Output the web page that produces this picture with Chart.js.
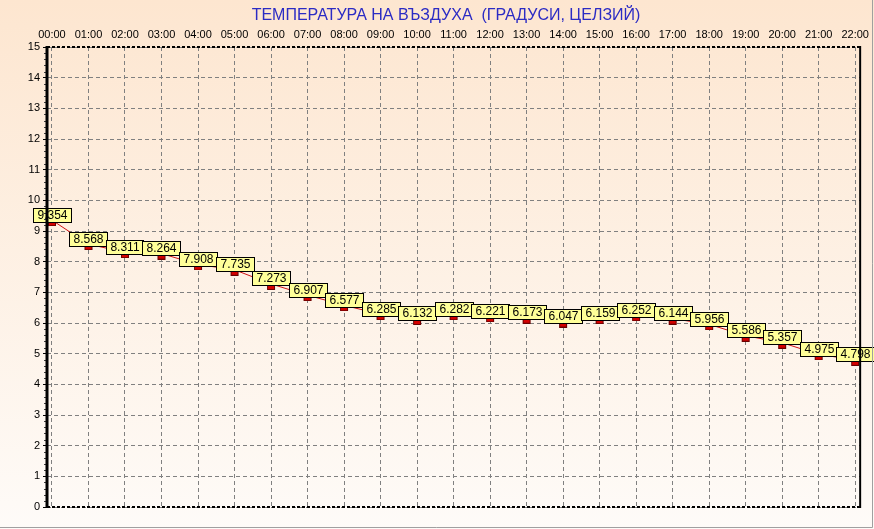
<!DOCTYPE html>
<html>
<head>
<meta charset="utf-8">
<script src="https://cdn.jsdelivr.net/npm/chart.js@4/dist/chart.umd.min.js"></script>
<style>
html,body{margin:0;padding:0;background:#fff;}
#wrap{width:874px;height:529px;position:relative;}
</style>
</head>
<body>
<div id="wrap"><canvas id="c" width="874" height="529"></canvas></div>
<script>
const titleText = "ТЕМПЕРАТУРА НА ВЪЗДУХА  (ГРАДУСИ, ЦЕЛЗИЙ)";
const hours = ["00:00","01:00","02:00","03:00","04:00","05:00","06:00","07:00","08:00","09:00","10:00","11:00","12:00","13:00","14:00","15:00","16:00","17:00","18:00","19:00","20:00","21:00","22:00"];
const temps = [9.354,8.568,8.311,8.264,7.908,7.735,7.273,6.907,6.577,6.285,6.132,6.282,6.221,6.173,6.047,6.159,6.252,6.144,5.956,5.586,5.357,4.975,4.798];
const yMin = 0, yMax = 15;

// marker image (red bar drawn just below the point)
const marker = document.createElement('canvas');
marker.width = 10; marker.height = 12;
(function(){
  const m = marker.getContext('2d');
  m.fillStyle = '#d40000';
  m.fillRect(1,7,8,5);
  m.strokeStyle = '#6a0000';
  m.lineWidth = 1;
  m.strokeRect(1.5,7.5,7,4);
})();

const bgPlugin = {
  id:'bg',
  beforeDraw(chart){
    const ctx = chart.ctx, w = chart.width, h = chart.height;
    const g = ctx.createLinearGradient(0,0,0,h);
    g.addColorStop(0,'#fde6d0');
    g.addColorStop(1,'#fefbf8');
    ctx.save();
    ctx.fillStyle = g;
    ctx.fillRect(0,0,w,h);
    ctx.restore();
  }
};

const framePlugin = {
  id:'frame',
  afterDatasetsDraw(chart){
    const ctx = chart.ctx;
    ctx.save();
    const meta = chart.getDatasetMeta(0);
    ctx.font = '12px Arial, "Liberation Sans"';
    ctx.textAlign = 'center';
    ctx.textBaseline = 'middle';
    meta.data.forEach((pt,i)=>{
      const txt = temps[i].toFixed(3);
      const tw = ctx.measureText(txt).width;
      const bw = Math.round(tw + 8), bh = 14;
      const bx = Math.round(pt.x - bw/2) + 0.5;
      const by = Math.round(pt.y + 1.5 - bh) + 0.5;
      ctx.fillStyle = '#ffff99';
      ctx.fillRect(bx,by,bw,bh);
      ctx.strokeStyle = '#000';
      ctx.lineWidth = 1;
      ctx.strokeRect(bx,by,bw,bh);
      ctx.fillStyle = '#000';
      ctx.fillText(txt, bx + bw/2, by + bh/2 + 0.5);
    });
    ctx.restore();
  },
  afterDraw(chart){
    const ctx = chart.ctx, a = chart.chartArea;
    const ys = chart.scales.y;
    ctx.save();
    ctx.strokeStyle = '#404040';
    ctx.lineWidth = 1;
    for(let v=yMin; v<yMax; v+=1){
      for(let k=1;k<5;k++){
        const py = Math.round(ys.getPixelForValue(v + k*0.2)) + 0.5;
        ctx.beginPath(); ctx.moveTo(a.left-3,py); ctx.lineTo(a.left,py); ctx.stroke();
      }
    }
    ctx.strokeStyle = '#000';
    ctx.setLineDash([3,2]);
    ctx.lineWidth = 2;
    ctx.beginPath(); ctx.moveTo(a.left,a.top); ctx.lineTo(a.right,a.top); ctx.stroke();
    ctx.beginPath(); ctx.moveTo(a.left,a.bottom); ctx.lineTo(a.right,a.bottom); ctx.stroke();
    ctx.setLineDash([]);
    ctx.beginPath(); ctx.moveTo(a.right,a.top-1); ctx.lineTo(a.right,a.bottom+1); ctx.stroke();
    ctx.lineWidth = 3;
    ctx.beginPath(); ctx.moveTo(a.left,a.top-1); ctx.lineTo(a.left,a.bottom+1); ctx.stroke();
    ctx.strokeStyle = '#a0a0a0';
    ctx.lineWidth = 1;
    ctx.beginPath(); ctx.moveTo(0,chart.height-1.5); ctx.lineTo(chart.width-1.5,chart.height-1.5); ctx.lineTo(chart.width-1.5,0); ctx.stroke();
    ctx.restore();
  }
};

const pxPerHour = (860-52)/22;
const xPad = 5/pxPerHour;

new Chart(document.getElementById('c'), {
  type:'line',
  data:{
    datasets:[{
      data: temps.map((v,i)=>({x:i,y:v})),
      borderColor:'#d01010',
      borderWidth:1,
      pointStyle: marker,
      pointRadius: 5,
      pointHoverRadius: 5,
      fill:false,
      tension:0
    }]
  },
  plugins:[bgPlugin, framePlugin],
  options:{
    responsive:false,
    animation:false,
    events:[],
    layout:{padding:{left:27,right:9,top:0,bottom:22}},
    plugins:{
      legend:{display:false},
      tooltip:{enabled:false},
      title:{
        display:true,
        text:titleText,
        color:'#2b2bc4',
        font:{family:'Arial, "Liberation Sans"', size:16, weight:'normal'},
        padding:{top:6,bottom:0}
      }
    },
    scales:{
      x:{
        type:'linear',
        position:'top',
        min:-xPad,
        max:22+xPad,
        afterFit(s){ s.height = 47 - 6 - 19.2; },
        ticks:{
          stepSize:1,
          includeBounds:false,
          autoSkip:false,
          maxRotation:0,
          padding:5,
          color:'#000',
          font:{family:'Arial, "Liberation Sans"', size:11},
          callback:(v)=> hours[v] !== undefined ? hours[v] : ''
        },
        grid:{
          color:'#808080',
          lineWidth:1,
          drawTicks:false,
          tickBorderDash:[]
        },
        border:{display:false, dash:[4,3]}
      },
      y:{
        min:yMin,
        max:yMax,
        afterFit(s){ s.width = 20; },
        ticks:{
          stepSize:1,
          padding:3,
          color:'#000',
          font:{family:'Arial, "Liberation Sans"', size:11}
        },
        grid:{
          color:'#808080',
          lineWidth:1,
          drawTicks:true,
          tickLength:4,
          tickColor:'#000',
          tickBorderDash:[]
        },
        border:{display:false, dash:[4,3]}
      }
    }
  }
});
</script>
</body>
</html>
